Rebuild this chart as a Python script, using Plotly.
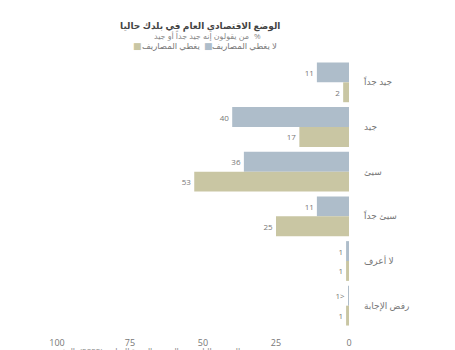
import plotly.graph_objects as go

categories = ["جيد جداً", "جيد", "سيئ", "سيئ جداً", "لا أعرف", "رفض الإجابة"]
covers = [11, 40, 36, 11, 1, 0.1]
covers_labels = ["11", "40", "36", "11", "1", "1>"]
not_covers = [2, 17, 53, 25, 1, 1]
not_covers_labels = ["2", "17", "53", "25", "1", "1"]
series_names = ["يغطي المصاريف", "لا يغطي المصاريف"]
x_ticks = [0, 25, 50, 75, 100]

W, H = 455, 350
L, R, T, B = 57, 349, 59.5, 328.5

def px(x):
    return (x - L) / (R - L)

def py(y):
    return (B - y) / (B - T)

FONT = "Open Sans, DejaVu Sans, sans-serif"
BLUE = "#aebdca"
TAN = "#c9c6a3"

fig = go.Figure()
fig.add_trace(go.Bar(
    y=categories, x=covers, orientation="h", name=series_names[0],
    marker=dict(color=BLUE, line=dict(width=0)),
    text=covers_labels, textposition="outside", cliponaxis=False,
    textfont=dict(size=8, color="#777777", family=FONT),
))
fig.add_trace(go.Bar(
    y=categories, x=not_covers, orientation="h", name=series_names[1],
    marker=dict(color=TAN, line=dict(width=0)),
    text=not_covers_labels, textposition="outside", cliponaxis=False,
    textfont=dict(size=8, color="#777777", family=FONT),
))

fig.update_layout(
    width=W, height=H,
    margin=dict(l=L, r=W - R, t=T, b=H - B, autoexpand=False),
    paper_bgcolor="white", plot_bgcolor="white",
    barmode="group", bargap=0.11, bargroupgap=0,
    showlegend=False,
    font=dict(family=FONT, color="#777777"),
    xaxis=dict(range=[100, 0], tickvals=x_ticks, showgrid=False, zeroline=False,
               showline=False, ticks="", ticklabelstandoff=8, automargin=False,
               tickfont=dict(size=9, color="#777777")),
    yaxis=dict(autorange="reversed", side="right", showgrid=False, showline=False,
               ticks="", ticklabelstandoff=14, zeroline=False, automargin=False,
               tickfont=dict(size=9, color="#777777")),
)

anns = [
    dict(text="<b>الوضع الاقتصادي العام في بلدك حاليا</b>", x=px(282), y=py(25),
         xanchor="right", yanchor="middle", font=dict(size=9, color="#444444", family=FONT)),
    dict(text="من يقولون إنه جيد جداً أو جيد", x=px(251), y=py(35),
         xanchor="right", yanchor="middle", font=dict(size=8, color="#888888", family=FONT)),
    dict(text="%", x=px(252), y=py(34.5),
         xanchor="left", yanchor="middle", font=dict(size=8, color="#888888", family=FONT)),
    dict(text=series_names[1], x=px(279), y=py(45),
         xanchor="right", yanchor="middle", font=dict(size=8.5, color="#777777", family=FONT)),
    dict(text="■", x=px(208), y=py(45),
         xanchor="center", yanchor="middle", font=dict(size=9, color=BLUE, family=FONT)),
    dict(text=series_names[0], x=px(202), y=py(45),
         xanchor="right", yanchor="middle", font=dict(size=8.5, color="#777777", family=FONT)),
    dict(text="■", x=px(137), y=py(45),
         xanchor="center", yanchor="middle", font=dict(size=9, color=TAN, family=FONT)),
    dict(text="المصدر: الباروميتر العربي، الدورة السابعة (2022)، المغرب", x=px(48), y=py(351),
         xanchor="left", yanchor="middle", font=dict(size=8, color="#888888", family=FONT)),
]
for a in anns:
    a.update(xref="paper", yref="paper", showarrow=False)
fig.update_layout(annotations=anns)

fig.write_html("out.html")
